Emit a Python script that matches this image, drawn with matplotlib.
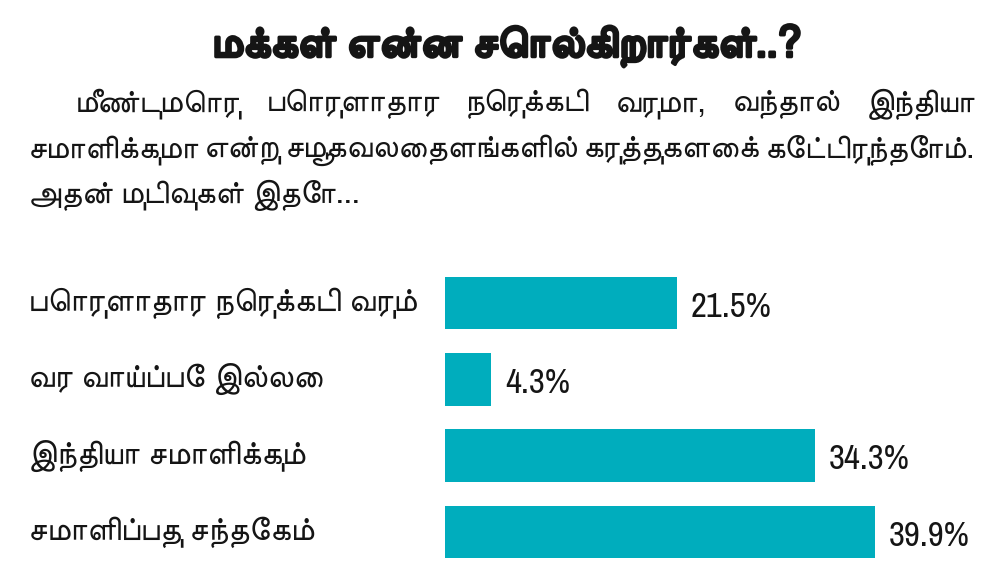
import matplotlib
matplotlib.use('Agg')
import matplotlib.pyplot as plt
import matplotlib.patheffects as pe
from matplotlib.transforms import blended_transform_factory

# survey answers and shares (%)
labels = ['பொருளாதார நெருக்கடி வரும்', 'வர வாய்ப்பே இல்லை',
          'இந்தியா சமாளிக்கும்', 'சமாளிப்பது சந்தேகம்']
values = [21.5, 4.3, 34.3, 39.9]

title = 'மக்கள் என்ன சொல்கிறார்கள்..?'
intro = ['மீண்டுமொரு பொருளாதார நெருக்கடி வருமா, வந்தால் இந்தியா',
         'சமாளிக்குமா என்று சமூகவலைதளங்களில் கருத்துகளைக் கேட்டிருந்தோம்.',
         'அதன் முடிவுகள் இதோ...']

TAMIL = ['FreeSans', 'Noto Sans Tamil', 'DejaVu Sans']
NUM = ['Archivo Narrow', 'DejaVu Sans']
bar_color = '#00adbd'
ink = '#151515'

W, H = 1000, 580
fig = plt.figure(figsize=(W / 100, H / 100), dpi=100)
fig.patch.set_facecolor('white')

def px(x, y):
    # pixel (from top-left) -> figure fraction
    return x / W, 1 - y / H

# title (FreeSans has no bold Tamil, so thicken with a stroke)
fig.text(*px(506, 46), title, ha='center', va='center', fontsize=31,
         family=TAMIL, color=ink,
         path_effects=[pe.withStroke(linewidth=2.4, foreground=ink)])

# intro paragraph, justified lines like the print version
renderer = fig.canvas.get_renderer()

def justify(words, x0, x1, y, **kw):
    objs = [fig.text(*px(x0, y), w, va='center', **kw) for w in words]
    widths = [o.get_window_extent(renderer).width for o in objs]
    gap = (x1 - x0 - sum(widths)) / max(len(words) - 1, 1)
    x = x0
    for o, w in zip(objs, widths):
        o.set_position(px(x, y))
        x += w + gap

para_kw = dict(fontsize=23, family=TAMIL, color=ink)
justify(intro[0].split(' '), 75, 975, 104, **para_kw)
justify(intro[1].split(' '), 28, 975, 150, **para_kw)
fig.text(*px(28, 195), intro[2], va='center', **para_kw)

# bar chart
ax = fig.add_axes([0.445, 1 - 570 / H, 0.555, 305 / H])
pos = range(len(values))
ax.barh(pos, values, height=0.69, color=bar_color)
ax.set_xlim(0, 555 / 10.78)
ax.set_ylim(3.5, -0.5)
ax.axis('off')

trans = blended_transform_factory(fig.transFigure, ax.transData)
for i, (lab, v) in enumerate(zip(labels, values)):
    ax.text(0.028, i, lab, transform=trans, va='center', ha='left',
            fontsize=23.5, family=TAMIL, color=ink)
    ax.text(v + 1.3, i + 0.05, '%.1f%%' % v, va='center', ha='left',
            fontsize=25, family=NUM, color=ink)

fig.savefig('out.png', dpi=100)
